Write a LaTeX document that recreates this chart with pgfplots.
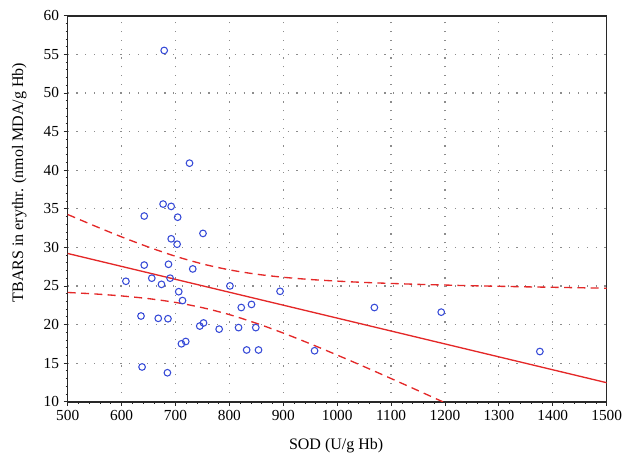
\documentclass[border=0pt]{standalone}
\usepackage{pgfplots}
\pgfplotsset{compat=1.18}
\usepackage{fontspec}
\setmainfont{Liberation Serif}
\definecolor{ptblue}{RGB}{55,75,215}
\definecolor{lnred}{RGB}{228,40,40}
\definecolor{axgray}{RGB}{40,40,40}
\begin{document}
\begin{tikzpicture}[x=0.75pt,y=0.75pt]
\path[use as bounding box] (-67.7,-60.3) rectangle (565.3,401.7);
\begin{axis}[
  at={(0,0)}, anchor=south west,
  scale only axis, width=404.25pt, height=289.5pt,
  xmin=500, xmax=1500, ymin=10, ymax=60,
  xtick={500,600,...,1500}, ytick={10,15,...,60},
  minor x tick num=4, minor y tick num=4,
  tick align=outside,
  major tick length=3pt, minor tick length=1.6pt,
  tick style={axgray, line width=0.6pt},
  minor tick style={axgray, line width=0.5pt},
  axis line style={axgray, line width=1.2pt},
  xtick pos=bottom, ytick pos=left,
  grid=major,
  major grid style={gray!90, line width=0.9pt, dash pattern=on 0.9pt off 5.7pt},
  xticklabel style={font=\fontsize{11.5}{13}\selectfont},
  yticklabel style={font=\fontsize{11.5}{13}\selectfont},
  xlabel={SOD (U/g Hb)},
  ylabel={TBARS in erythr. (nmol MDA/g Hb)},
  every axis x label/.style={at={(axis description cs:0.498,-0.115)}, anchor=center, font=\fontsize{12}{14}\selectfont},
  every axis y label/.style={at={(axis description cs:-0.09,0.568)}, rotate=90, anchor=center, font=\fontsize{12}{14}\selectfont},
  clip=true,
  /pgf/number format/assume math mode=true,
  /pgf/number format/set thousands separator={},
]
% regression line
\addplot[lnred, line width=1pt] coordinates {(500,29.2) (1500,12.46)};
% upper confidence band
\addplot[lnred, line width=1pt, dash pattern=on 6pt off 4pt, smooth] coordinates {
(500,34.25) (550,32.77) (600,31.35) (650,30.03) (700,28.84) (750,27.85) (800,27.08)
(850,26.52) (900,26.12) (950,25.83) (1000,25.62) (1050,25.45) (1100,25.32) (1150,25.20)
(1200,25.11) (1250,25.02) (1300,24.95) (1350,24.88) (1400,24.82) (1450,24.76) (1500,24.70)};
% lower confidence band
\addplot[lnred, line width=1pt, dash pattern=on 6pt off 4pt, smooth] coordinates {
(500,24.15) (550,23.96) (600,23.70) (650,23.35) (700,22.86) (750,22.18) (800,21.28)
(850,20.16) (900,18.89) (950,17.50) (1000,16.04) (1050,14.54) (1100,13.00) (1150,11.44)
(1200,9.86) (1250,8.27)};
% data points
\addplot[only marks, mark=o, mark size=2.5pt, mark options={ptblue, line width=0.8pt}] coordinates {
(608,25.6) (642,27.7) (656,26.0) (674,25.2) (687,27.8) (690,26.0) (692,31.1) (703,30.4)
(706,24.25) (713,23.1) (732,27.2) (751,31.8) (801,25.0) (894,24.3)
(636,21.1) (668,20.8) (686,20.75) (745,19.8) (752,20.2) (781,19.4) (817,19.6) (822,22.2)
(841,22.6) (849,19.6) (711,17.5) (719,17.8) (832,16.7) (854,16.7) (958,16.6)
(638,14.5) (685,13.75)
(679,55.5) (726,40.9) (677,35.6) (692,35.3) (642,34.05) (704,33.9)
(1069,22.2) (1193,21.6) (1376,16.5)};
\end{axis}
\end{tikzpicture}
\end{document}
